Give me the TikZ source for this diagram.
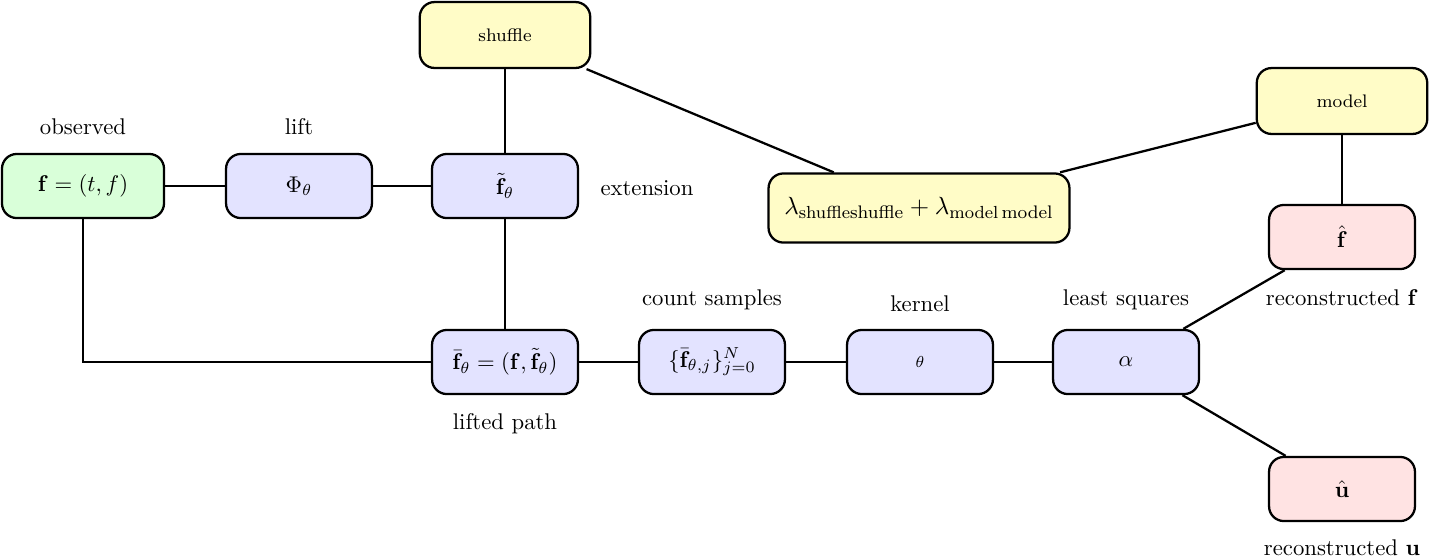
\documentclass[tikz,border=0pt]{standalone}
\usepackage{amsmath}
\begin{document}
\begin{tikzpicture}[x=0.44pt,y=-0.44pt,
  box/.style={draw=black,line width=1pt,rounded corners=6.5pt,inner sep=2pt,minimum width=64.2pt,minimum height=28.2pt,align=center},
  gbox/.style={box,fill=green!15},
  bbox/.style={box,fill=blue!11},
  ybox/.style={box,fill=yellow!22,minimum width=75pt,minimum height=29pt},
  rbox/.style={box,fill=red!11},
  lbl/.style={inner sep=0pt},
  conn/.style={line width=1pt}]
\useasboundingbox (0,0) rectangle (1430,557);
\node[gbox,minimum width=71.3pt] (obs) at (83,186) {$\mathbf{f} = (t, f)$};
\node[bbox] (phi) at (299,186) {$\Phi_\theta$};
\node[bbox] (ft) at (505,186) {$\tilde{\mathbf{f}}_\theta$};
\node[ybox] (sh) at (505,35) {\footnotesize$\text{shuffle}$};
\node[ybox,minimum width=132.4pt,minimum height=30.4pt] (lam) at (919,208) {\fontsize{11}{13}\selectfont$\lambda_{\text{shuffle}\mathrm{shuffle}} + \lambda_{\text{model}\,\mathrm{model}}$};
\node[ybox] (mod) at (1342,101) {\footnotesize$\text{model}$};
\node[rbox] (fh) at (1342,237) {$\hat{\mathbf{f}}$};
\node[bbox] (fb) at (505,362) {$\bar{\mathbf{f}}_\theta = (\mathbf{f}, \tilde{\mathbf{f}}_\theta)$};
\node[bbox] (smp) at (712,362) {$\{\bar{\mathbf{f}}_{\theta,j}\}_{j=0}^N$};
\node[bbox] (ker) at (920,362) {\scriptsize$\theta$};
\node[bbox] (al) at (1126,362) {$\alpha$};
\node[rbox] (uh) at (1342,489) {$\hat{\mathbf{u}}$};

\node[lbl] (l1) at (83,127) {observed};
\node[lbl] (l2) at (299,127) {lift};
\node[lbl] (l3) at (647,188) {extension};
\node[lbl] (l4) at (712,300) {count samples};
\node[lbl] (l5) at (920,304) {kernel};
\node[lbl] (l6) at (1126,300) {least squares};
\node[lbl] (l7) at (505,424) {lifted path};
\node[lbl] (l8) at (1342,298) {reconstructed $\mathbf{f}$};
\node[lbl] (l9) at (1342,548) {reconstructed $\mathbf{u}$};

\draw[conn] (obs) -- (phi);
\draw[conn] (phi) -- (ft);
\draw[conn] (sh) -- (ft);
\draw[conn] (ft) -- (fb);
\draw[conn] (obs.south) |- (fb.west);
\draw[conn] (fb) -- (smp);
\draw[conn] (smp) -- (ker);
\draw[conn] (ker) -- (al);
\draw[conn] (sh) -- (lam);
\draw[conn] (mod) -- (lam);
\draw[conn] (mod) -- (fh);
\draw[conn] (al) -- (fh);
\draw[conn] (al) -- (uh);
\end{tikzpicture}
\end{document}
